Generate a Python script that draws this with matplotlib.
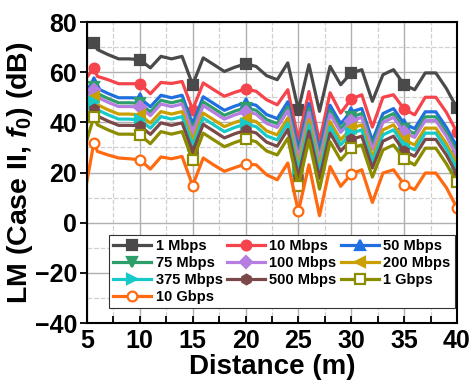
import matplotlib
matplotlib.use("Agg")
import matplotlib.pyplot as plt
from matplotlib.ticker import MultipleLocator

plt.rcParams['font.family'] = ['Liberation Sans', 'DejaVu Sans']
plt.rcParams['font.weight'] = 'bold'
plt.rcParams['mathtext.fontset'] = 'custom'
plt.rcParams['mathtext.rm'] = 'Liberation Sans:bold'
plt.rcParams['mathtext.it'] = 'Liberation Sans:italic:bold'

distance = [5, 5.65] + list(range(6, 41))

lm_1m = [71.5, 71.6, 69, 67, 65.3, 65.3, 65, 61.7, 66.3, 65.3, 66.3, 55, 65.7, 63, 60.3, 62, 63.3,
         62.3, 58.6, 57, 63.7, 45, 63, 44.4, 62.3, 55, 59.7, 61, 48.4, 59, 61, 55, 53, 59.7, 59.7, 53.5, 45.7]
lm_10m = [58, 61.7, 58.3, 57, 55.4, 55.4, 55.4, 51.4, 55.9, 55.5, 56.3, 45, 55.7, 53, 50.4, 52, 53.3,
          52.4, 49, 47, 53, 33, 52.3, 32.4, 51.8, 43.7, 49.3, 51, 38.1, 50, 51, 45.3, 43, 50, 50, 44, 36]
lm_50m = [53.5, 56, 53.5, 51.5, 49.8, 49.8, 49.7, 46.2, 50.8, 49.8, 50.8, 39.3, 50.2, 47.5, 44.8, 46.5, 47.8,
          46.8, 43.1, 41.5, 48.2, 29.2, 47.5, 28.7, 46.8, 39.5, 44.2, 45.5, 32.7, 43.5, 45.5, 39.5, 37.5, 44.2, 44.2, 38, 30.2]
lm_75m = [51.5, 54.2, 51.5, 49.5, 47.8, 47.8, 47.6, 44.2, 48.8, 47.8, 48.8, 37.3, 48.2, 45.5, 42.8, 44.5, 45.8,
          44.8, 41.1, 39.5, 46.2, 27.2, 45.5, 26.7, 44.8, 37.5, 42.2, 43.5, 30.7, 41.5, 43.5, 37.5, 35.5, 42.2, 42.2, 36, 28.2]
lm_100m = [50, 52.8, 50, 48, 46.3, 46.3, 46.1, 42.7, 47.3, 46.3, 47.3, 35.8, 46.7, 44, 41.3, 43, 44.3,
           43.3, 39.6, 38, 44.7, 25.6, 44, 25.2, 43.3, 36, 40.7, 42, 29.2, 40, 42, 36, 34, 40.7, 40.7, 34.5, 26.7]
lm_200m = [47, 50.2, 47, 45, 43.3, 43.3, 43, 39.7, 44.3, 43.3, 44.3, 32.8, 43.7, 41, 38.3, 40, 41.3,
           40.3, 36.6, 35, 41.7, 22.7, 41, 22.2, 40.3, 33, 37.7, 39, 26.2, 37, 39, 33, 31, 37.7, 37.7, 31.5, 23.7]
lm_375m = [45, 48, 45, 43, 41.3, 41.3, 41, 37.7, 42.3, 41.3, 42.3, 30.8, 41.7, 39, 36.3, 38, 39.3,
           38.3, 34.6, 33, 39.7, 20.7, 39, 20.2, 38.3, 31, 35.7, 37, 24.2, 35, 37, 31, 29, 35.7, 35.7, 29.5, 21.7]
lm_500m = [43, 45.5, 42.5, 40.5, 38.8, 38.8, 38.7, 35.2, 39.8, 38.8, 39.8, 28.4, 39.2, 36.5, 33.8, 35.5, 36.8,
           35.8, 32.1, 30.5, 37.2, 18.3, 36.5, 17.7, 35.8, 28.5, 33.2, 34.5, 21.8, 32.5, 34.5, 28.5, 26.5, 33.2, 33.2, 27, 19.2]
lm_1g = [33, 42.1, 39, 37, 35.3, 35.3, 35.1, 31.5, 36.3, 35.3, 36.3, 24.8, 35.7, 33, 30.3, 32, 33.4,
         32.3, 28.6, 27, 33.7, 14.5, 33, 13.4, 32.3, 25, 29.8, 31, 18.2, 29, 31, 25.4, 23, 29.7, 29.7, 23.5, 16.1]
lm_10g = [16.5, 31.8, 28.4, 27, 25.8, 25.5, 25.1, 21.4, 26.2, 25.5, 26.4, 14.8, 25.8, 23, 20.5, 22, 23.4,
          23.1, 19.1, 17.1, 23.8, 4.5, 23.1, 2.8, 22.4, 14.5, 19.4, 21.1, 8.1, 19.8, 21.1, 15.2, 13.2, 19.8, 19.8, 14, 5.9]

labels = ['1 Mbps', '10 Mbps', '50 Mbps', '75 Mbps', '100 Mbps', '200 Mbps',
          '375 Mbps', '500 Mbps', '1 Gbps', '10 Gbps']
series = [lm_1m, lm_10m, lm_50m, lm_75m, lm_100m, lm_200m, lm_375m, lm_500m, lm_1g, lm_10g]
colors = ['#4a4a4a', '#f5444c', '#1f6fe0', '#2e9e6a', '#b57ee0', '#c9a000',
          '#17c9c9', '#7a4848', '#8c8c00', '#ff6a10']
markers = ['s', 'o', '^', 'v', 'D', '<', '>', 'h', 's', 'o']
marks = [1, 6, 11, 16, 21, 26, 31, 36]

fig = plt.figure(figsize=(4.75, 3.86), dpi=100)
ax = fig.add_axes([0.183, 0.163, 0.779, 0.78])

lines = []
for i in range(len(series)):
    face = 'white' if i >= 8 else colors[i]
    ms = 7 if markers[i] != 'D' else 6
    ln, = ax.plot(distance, series[i], color=colors[i], lw=2.3, marker=markers[i],
                  markersize=ms, markerfacecolor=face, markeredgecolor=colors[i],
                  markeredgewidth=1.6, markevery=marks, label=labels[i])
    lines.append(ln)

ax.set_xlim(5, 40)
ax.set_ylim(-40, 80)
ax.xaxis.set_major_locator(MultipleLocator(5))
ax.xaxis.set_minor_locator(MultipleLocator(2.5))
ax.yaxis.set_major_locator(MultipleLocator(20))
ax.yaxis.set_minor_locator(MultipleLocator(10))
ax.grid(which='major', color='#b0b0b0', lw=1.0, ls='-')
ax.grid(which='minor', color='#d0d0d0', lw=0.9, ls='--')
ax.set_axisbelow(True)

for s in ax.spines.values():
    s.set_linewidth(1.5)
ax.tick_params(axis='x', which='both', direction='in', length=5, width=1.3, labelsize=18, pad=4)
ax.tick_params(axis='y', which='major', direction='out', length=5, width=1.3, labelsize=18, pad=2)
ax.tick_params(axis='y', which='minor', length=0)

ax.set_xlabel('Distance (m)', fontsize=20, fontweight='bold', labelpad=1)
ax.set_ylabel(r'LM (Case II, $\mathit{f_{0}}$) (dB)', fontsize=20.5, fontweight='bold', labelpad=0)

order = [0, 3, 6, 9, 1, 4, 7, 2, 5, 8]
leg = ax.legend([lines[k] for k in order], [labels[k] for k in order], ncol=3,
                loc='lower left', bbox_to_anchor=(0.04, 0.025),
                prop={'weight': 'bold', 'size': 10.5}, handlelength=2.6,
                columnspacing=0.3, handletextpad=0.3, labelspacing=0.2,
                borderpad=0.3, fancybox=False, framealpha=1, edgecolor='#333333')
leg.get_frame().set_linewidth(0.8)

fig.savefig('out.png', dpi=100)
